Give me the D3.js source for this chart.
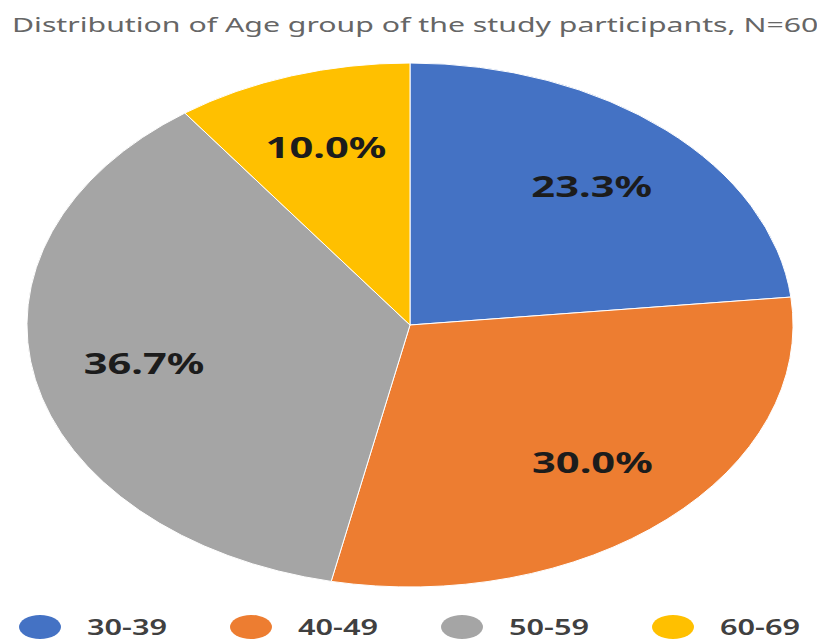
<!DOCTYPE html>
<html>
<head>
<meta charset="utf-8">
<script src="https://cdn.jsdelivr.net/npm/d3@7"></script>
<style>
  html, body { margin: 0; padding: 0; background: #ffffff; }
  svg { display: block; }
</style>
</head>
<body>
<svg id="chart" width="817" height="641"></svg>
<script>
// Age groups of the participants (N = 60)
const categories = ["30-39", "40-49", "50-59", "60-69"];
const shares = [23.3, 30.0, 36.7, 10.0];
const labels = ["23.3%", "30.0%", "36.7%", "10.0%"];
const colors = ["#4472C4", "#ED7D31", "#A5A5A5", "#FFC000"];
const title = "Distribution of Age group of the study participants, N=60";

const W = 817, H = 641;
const svg = d3.select("#chart");

// the whole figure is drawn wider than tall
const sx = 1.462;
const cx = 410, cy = 325, r = 262;

// title
svg.append("text")
  .attr("transform", `translate(${12},${32}) scale(${sx},1)`)
  .attr("font-family", "'Noto Sans', sans-serif")
  .attr("font-size", 20.7)
  .attr("fill", "#666666")
  .text(title);

// pie
const pie = d3.pie().sort(null).value(d => d);
const arcs = pie(shares);
const arc = d3.arc().innerRadius(0).outerRadius(r);
const labelArc = d3.arc().innerRadius(r * 0.71).outerRadius(r * 0.71);

const g = svg.append("g").attr("transform", `translate(${cx},${cy}) scale(${sx},1)`);
g.selectAll("path.slice")
  .data(arcs)
  .enter().append("path")
  .attr("class", "slice")
  .attr("d", arc)
  .attr("fill", (d, i) => colors[i])
  .attr("stroke", "#ffffff")
  .attr("stroke-width", 1)
  .attr("vector-effect", "non-scaling-stroke");

g.selectAll("text.lbl")
  .data(arcs)
  .enter().append("text")
  .attr("class", "lbl")
  .attr("x", d => labelArc.centroid(d)[0])
  .attr("y", d => labelArc.centroid(d)[1])
  .attr("text-anchor", "middle")
  .attr("dy", "0.36em")
  .attr("font-family", "'Noto Sans', sans-serif")
  .attr("font-weight", 700)
  .attr("font-size", 28.5)
  .attr("fill", "#1c1c1c")
  .text((d, i) => labels[i]);

// legend
const legendX = d3.scalePoint().domain(categories).range([40, 673]);
const lg = svg.append("g");
const item = lg.selectAll("g.item")
  .data(categories)
  .enter().append("g")
  .attr("class", "item")
  .attr("transform", d => `translate(${legendX(d)},${627})`);
item.append("ellipse")
  .attr("rx", 21)
  .attr("ry", 12)
  .attr("fill", (d, i) => colors[i]);
item.append("text")
  .attr("transform", `translate(${47},${7.5}) scale(${sx},1)`)
  .attr("font-family", "'Noto Sans', sans-serif")
  .attr("font-weight", 600)
  .attr("font-size", 21)
  .attr("fill", "#404040")
  .text(d => d);
</script>
</body>
</html>
